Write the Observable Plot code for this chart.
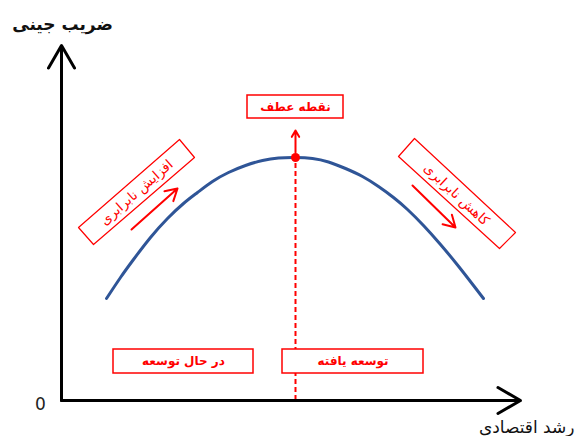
<!DOCTYPE html>
<html><head><meta charset="utf-8">
<script src="https://cdn.jsdelivr.net/npm/d3@7"></script>
<script src="https://cdn.jsdelivr.net/npm/@observablehq/plot@0.6"></script>
<style>body{margin:0;background:#fff} svg{display:block}</style>
</head><body><div id="chart"></div>
<script>
// Kuznets curve (x: economic growth, y: Gini coefficient), chart units
const curveX = [45, 59, 72, 89, 106, 122, 136, 151, 167, 184, 201, 217, 234, 251, 267, 284, 301, 317, 332, 346, 362, 379, 396, 412, 422];
const curveY = [102, 123, 141, 163, 182, 197, 208, 219, 228, 235, 240, 242.5, 243, 242, 238.5, 232, 224, 214, 203, 191, 175, 156, 135.5, 115, 102];
const peakX = 234, peakY = 243;

// axis arrows
const axisArrows = [
  {x1: 0, y1: 0, x2: 0, y2: 355},
  {x1: 0, y1: 0, x2: 459, y2: 0}
];
// red annotation arrows
const redArrows = [
  {x1: 234, y1: 248, x2: 234, y2: 270},
  {x1: 70, y1: 171, x2: 116, y2: 212},
  {x1: 351, y1: 215, x2: 394, y2: 173}
];
// axis-aligned label boxes
const boxLabels = ["نقطه عطف", "در حال توسعه", "توسعه یافته"];
const boxX1 = [186, 52, 221];
const boxX2 = [282, 192, 362];
const boxY1 = [282, 27, 27];
const boxY2 = [305, 51, 51];
// rotated label boxes (corners)
const rotLabels = ["افزایش نابرابری", "کاهش نابرابری"];
const rotCorners = [
  [[17, 173], [118, 261], [133, 243], [32, 156], [17, 173]],
  [[337, 244], [353, 262], [454, 168], [438, 152], [337, 244]]
];
const rotCenters = [[75, 208], [395, 206]];
const rotAngles = [-41, 43];

const curve = curveX.map((x, i) => ({x, y: curveY[i]}));
const boxes = boxLabels.map((t, i) => ({t, x1: boxX1[i], x2: boxX2[i], y1: boxY1[i], y2: boxY2[i]}));
const polys = rotCorners.flatMap((c, k) => c.map(([x, y]) => ({x, y, k})));
const rots = rotLabels.map((t, i) => ({t, x: rotCenters[i][0], y: rotCenters[i][1]}));

const red = "#ff0000";
const chart = Plot.plot({
  width: 575, height: 436, margin: 0,
  x: {domain: [0, 459], range: [61, 520], axis: null},
  y: {domain: [0, 355], range: [400, 45], axis: null},
  style: {fontFamily: "DejaVu Sans", background: "white"},
  marks: [
    Plot.ruleX([peakX], {y1: 0, y2: peakY, stroke: red, strokeWidth: 2, strokeDasharray: "5,3"}),
    Plot.line(curve, {x: "x", y: "y", stroke: "#2f5597", strokeWidth: 3, curve: "natural"}),
    Plot.dot([{x: peakX, y: peakY}], {x: "x", y: "y", r: 4.5, fill: red}),
    Plot.arrow(redArrows, {x1: "x1", y1: "y1", x2: "x2", y2: "y2", stroke: red, strokeWidth: 2, headLength: 10, bend: 0}),
    Plot.arrow(axisArrows, {x1: "x1", y1: "y1", x2: "x2", y2: "y2", stroke: "#000", strokeWidth: 3, headLength: 13, bend: 0}),
    Plot.rect(boxes, {x1: "x1", x2: "x2", y1: "y1", y2: "y2", fill: "white", stroke: red, strokeWidth: 1.5}),
    Plot.text(boxes, {x: d => (d.x1 + d.x2) / 2, y: d => (d.y1 + d.y2) / 2, text: "t", fill: red, fontSize: 12, fontWeight: "bold"}),
    Plot.line(polys, {x: "x", y: "y", z: "k", stroke: red, strokeWidth: 1.2, fill: "white"}),
    Plot.text(rots.slice(0, 1), {x: "x", y: "y", text: "t", rotate: rotAngles[0], fill: red, fontSize: 13.5}),
    Plot.text(rots.slice(1), {x: "x", y: "y", text: "t", rotate: rotAngles[1], fill: red, fontSize: 13.5}),
    Plot.text(["0"], {x: -21, y: -4, text: d => d, fill: "#222", fontSize: 17}),
    Plot.text(["ضریب جینی"], {x: 1, y: 376, text: d => d, fill: "#111", fontSize: 17, fontWeight: "bold"}),
    Plot.text(["رشد اقتصادی"], {x: 513, y: -27, text: d => d, textAnchor: "end", fill: "#111", fontSize: 17})
  ]
});
document.getElementById("chart").append(chart);
</script>
</body></html>
